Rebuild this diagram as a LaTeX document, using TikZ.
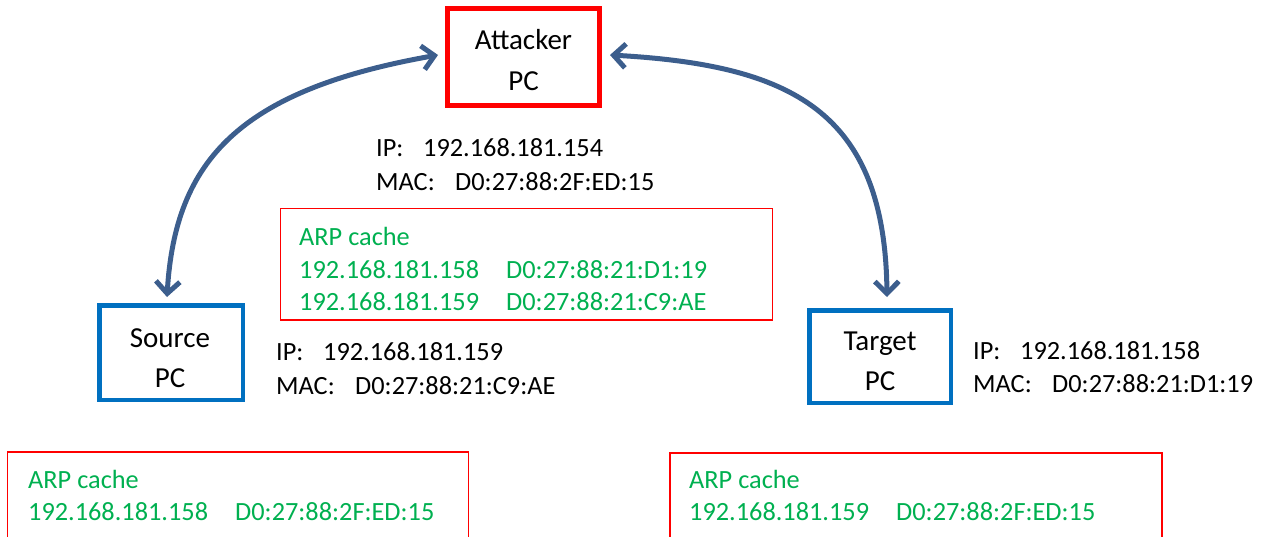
\documentclass[tikz,border=0pt]{standalone}
\usepackage{fontspec}
\setmainfont{Carlito}
\usetikzlibrary{arrows.meta}
\definecolor{redbox}{HTML}{FF0000}
\definecolor{bluebox}{HTML}{0070C0}
\definecolor{arpgreen}{HTML}{00B050}
\definecolor{linkblue}{HTML}{3C5E8D}
\tikzset{
  attbox/.style={draw=redbox, line width=5pt, inner sep=0pt, minimum width=152pt, minimum height=97pt},
  pcbox/.style={draw=bluebox, line width=4.5pt, inner sep=0pt},
  cachebox/.style={draw=redbox, line width=1.2pt, inner sep=0pt},
  boxtxt/.style={inner sep=0pt, anchor=base, font=\fontsize{29}{35}\selectfont},
  infotxt/.style={inner sep=0pt, anchor=base west, font=\fontsize{26.3}{32}\selectfont},
  arptxt/.style={infotxt, text=arpgreen},
  conn/.style={draw=linkblue, line width=5pt, {Straight Barb[length=12pt,width=24pt]}-{Straight Barb[length=12pt,width=24pt]}}
}
\begin{document}
\begin{tikzpicture}[x=1pt,y=-1pt]
\path[use as bounding box] (0,0) rectangle (1273,537);
\clip (0,0) rectangle (1273,537);

% boxes
\node[attbox] (attacker) at (523.5,57) {};
\node[pcbox, minimum width=143.5pt, minimum height=94.5pt] (source) at (171,352.5) {};
\node[pcbox, minimum width=141.5pt, minimum height=92.5pt] (target) at (880,356.5) {};
\node[cachebox, minimum width=492pt, minimum height=111.5pt] (midcache) at (526.5,264.25) {};
\node[cachebox, minimum width=461pt, minimum height=148pt] (srccache) at (238,526) {};
\node[cachebox, minimum width=492pt, minimum height=147pt] (tgtcache) at (916,526.5) {};

% box texts
\node[boxtxt] (attacker-l1) at (523.5,50) {Attacker};
\node[boxtxt] (attacker-l2) at (523.5,91) {PC};
\node[boxtxt] (source-l1) at (170,347) {Source};
\node[boxtxt] (source-l2) at (170,387) {PC};
\node[boxtxt] (target-l1) at (880,350) {Target};
\node[boxtxt] (target-l2) at (880,390) {PC};

% address info
\node[infotxt] (att-ip) at (376,157) {\makebox[47pt][l]{IP:}192.168.181.154};
\node[infotxt] (att-mac) at (376,191) {\makebox[79pt][l]{MAC:}D0:27:88:2F:ED:15};
\node[infotxt] (src-ip) at (276,360) {\makebox[47pt][l]{IP:}192.168.181.159};
\node[infotxt] (src-mac) at (276,394) {\makebox[79pt][l]{MAC:}D0:27:88:21:C9:AE};
\node[infotxt] (tgt-ip) at (973,359) {\makebox[47pt][l]{IP:}192.168.181.158};
\node[infotxt] (tgt-mac) at (973,392) {\makebox[79pt][l]{MAC:}D0:27:88:21:D1:19};

% ARP caches
\node[arptxt] (mid-h) at (299,246) {ARP cache};
\node[arptxt] (mid-r1) at (299,278) {\makebox[207pt][l]{192.168.181.158}D0:27:88:21:D1:19};
\node[arptxt] (mid-r2) at (299,310) {\makebox[207pt][l]{192.168.181.159}D0:27:88:21:C9:AE};
\node[arptxt] (src-h) at (28,488) {ARP cache};
\node[arptxt] (src-r1) at (28,520) {\makebox[207pt][l]{192.168.181.158}D0:27:88:2F:ED:15};
\node[arptxt] (tgt-h) at (689,488) {ARP cache};
\node[arptxt] (tgt-r1) at (689,520) {\makebox[207pt][l]{192.168.181.159}D0:27:88:2F:ED:15};

% connectors
\draw[conn] ([xshift=-4pt,yshift=6pt]source.north) .. controls (175,160) and (240,90) .. ([xshift=-7pt,yshift=2pt]attacker.west);
\draw[conn] ([xshift=8pt,yshift=2pt]attacker.east) .. controls (790,65) and (885,110) .. ([xshift=7pt,yshift=11pt]target.north);
\end{tikzpicture}
\end{document}
